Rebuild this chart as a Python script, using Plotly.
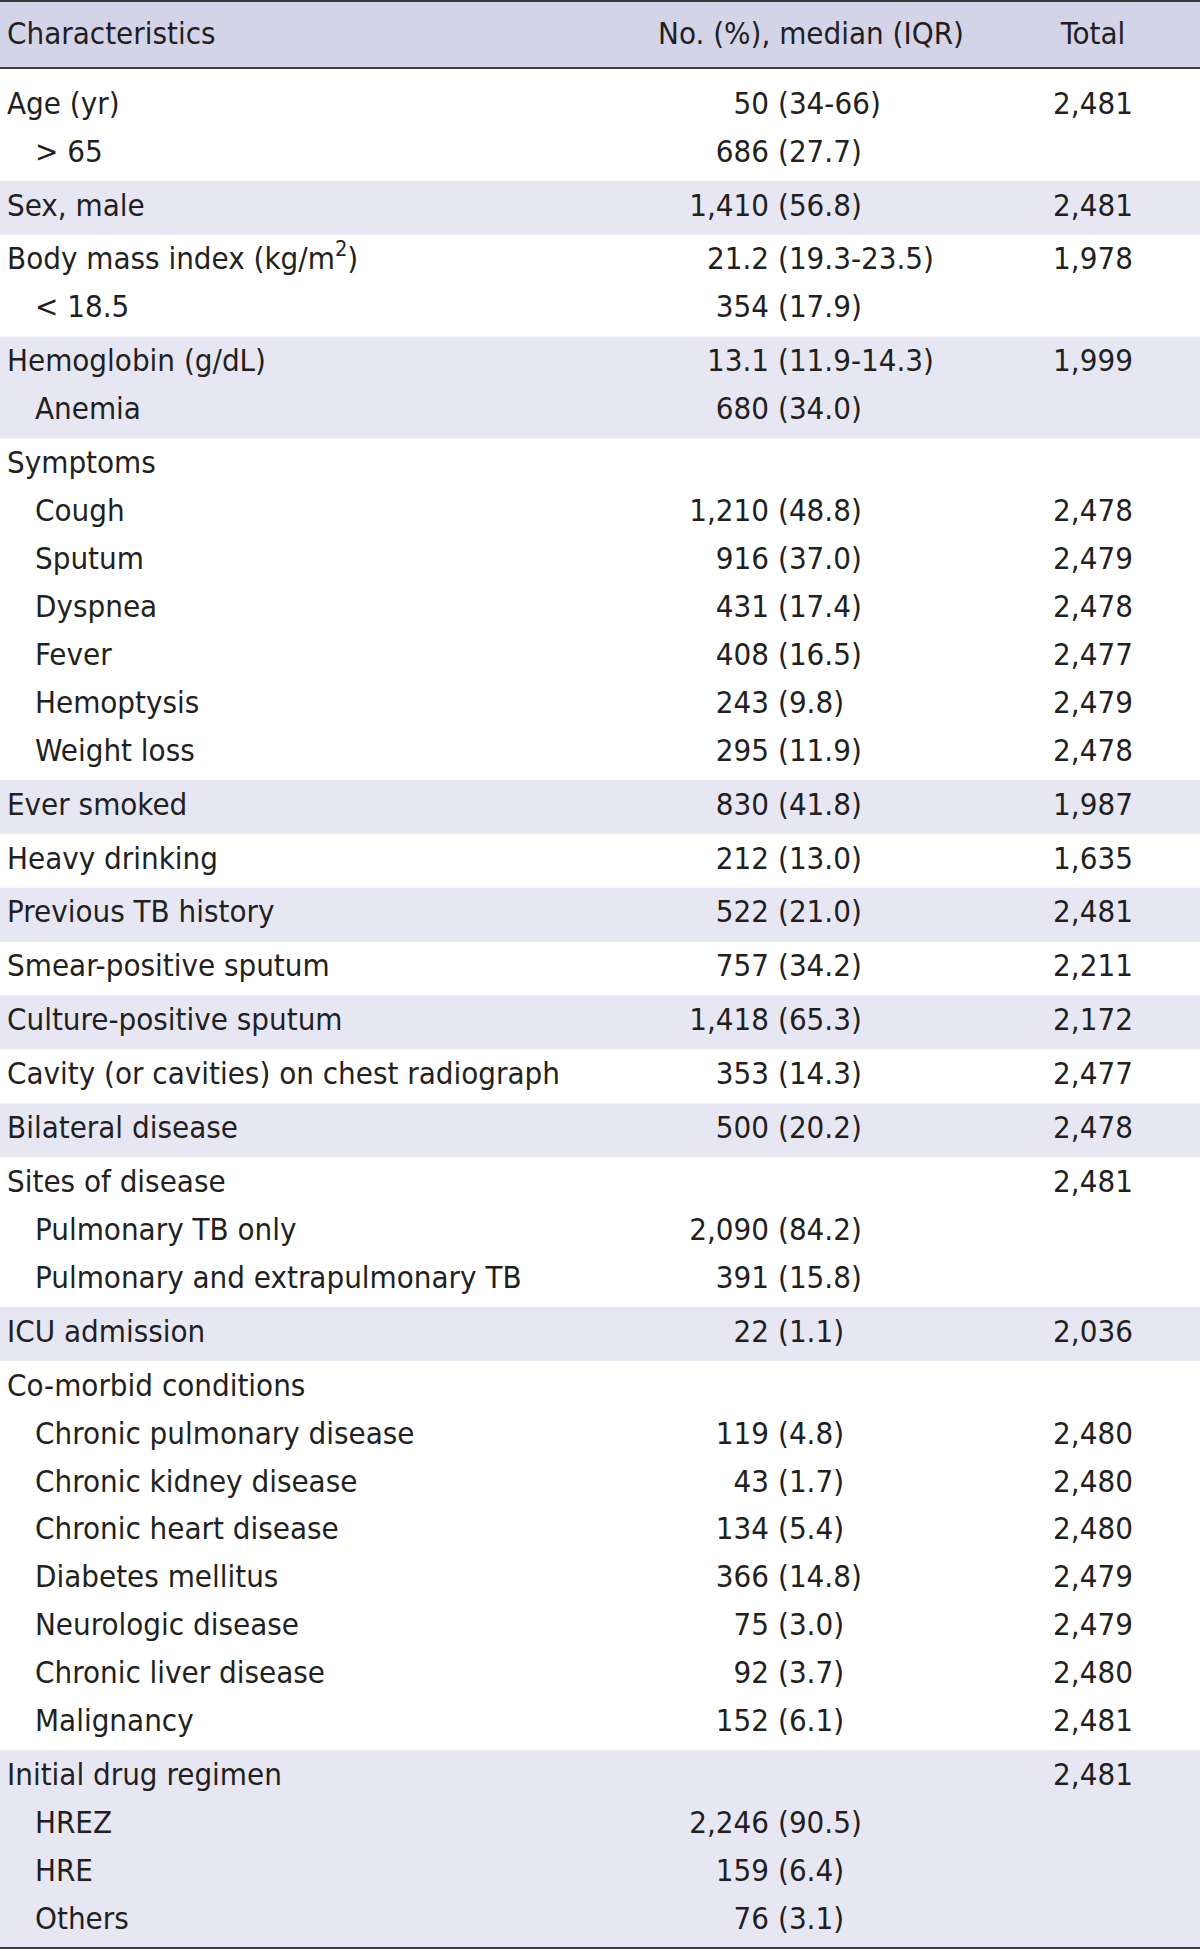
import plotly.graph_objects as go

# ---------------- data ----------------
header = ["Characteristics", "No. (%), median (IQR)", "Total"]

characteristics = [
    "Age (yr)", "&gt; 65",
    "Sex, male",
    "Body mass index (kg/m<sup>2</sup>)", "&lt; 18.5",
    "Hemoglobin (g/dL)", "Anemia",
    "Symptoms", "Cough", "Sputum", "Dyspnea", "Fever", "Hemoptysis", "Weight loss",
    "Ever smoked",
    "Heavy drinking",
    "Previous TB history",
    "Smear-positive sputum",
    "Culture-positive sputum",
    "Cavity (or cavities) on chest radiograph",
    "Bilateral disease",
    "Sites of disease", "Pulmonary TB only", "Pulmonary and extrapulmonary TB",
    "ICU admission",
    "Co-morbid conditions", "Chronic pulmonary disease", "Chronic kidney disease",
    "Chronic heart disease", "Diabetes mellitus", "Neurologic disease",
    "Chronic liver disease", "Malignancy",
    "Initial drug regimen", "HREZ", "HRE", "Others",
]

is_sub_item = [
    False, True,
    False,
    False, True,
    False, True,
    False, True, True, True, True, True, True,
    False,
    False,
    False,
    False,
    False,
    False,
    False,
    False, True, True,
    False,
    False, True, True, True, True, True, True, True,
    False, True, True, True,
]

values = [
    "50 (34-66)", "686 (27.7)",
    "1,410 (56.8)",
    "21.2 (19.3-23.5)", "354 (17.9)",
    "13.1 (11.9-14.3)", "680 (34.0)",
    "", "1,210 (48.8)", "916 (37.0)", "431 (17.4)", "408 (16.5)", "243 (9.8)", "295 (11.9)",
    "830 (41.8)",
    "212 (13.0)",
    "522 (21.0)",
    "757 (34.2)",
    "1,418 (65.3)",
    "353 (14.3)",
    "500 (20.2)",
    "", "2,090 (84.2)", "391 (15.8)",
    "22 (1.1)",
    "", "119 (4.8)", "43 (1.7)", "134 (5.4)", "366 (14.8)", "75 (3.0)", "92 (3.7)", "152 (6.1)",
    "", "2,246 (90.5)", "159 (6.4)", "76 (3.1)",
]

totals = [
    "2,481", "",
    "2,481",
    "1,978", "",
    "1,999", "",
    "", "2,478", "2,479", "2,478", "2,477", "2,479", "2,478",
    "1,987",
    "1,635",
    "2,481",
    "2,211",
    "2,172",
    "2,477",
    "2,478",
    "2,481", "", "",
    "2,036",
    "", "2,480", "2,480", "2,480", "2,479", "2,479", "2,480", "2,481",
    "2,481", "", "", "",
]

group_sizes = [2, 1, 2, 2, 7, 1, 1, 1, 1, 1, 1, 1, 3, 1, 8, 4]

# ---------------- geometry / style ----------------
W, H = 1200, 1952
FONT = "DejaVu Sans Condensed, Liberation Sans Narrow, sans-serif"
FS = 31
TXT = "#231f20"
HEAD_BG = "#d4d4e8"
BAND_BG = "#e7e7f3"
RULE = "#3c3c3c"

HEADER_BOTTOM = 68
FIRST_PAD = 11
GROUP_PAD = 3
LINE_H = 47.92
TEXT_DY = 0

X_LABEL = 7
X_SUB = 35
X_NUM_RIGHT = 769
X_PAREN_LEFT = 778
X_TOTAL = 1093
X_HEAD2 = 811

# compute line centers and group extents
line_y = []
group_extent = []
top = HEADER_BOTTOM + FIRST_PAD
for n in group_sizes:
    g_h = 2 * GROUP_PAD + LINE_H * n
    group_extent.append((top, top + g_h))
    for k in range(n):
        line_y.append(top + GROUP_PAD + LINE_H / 2 + LINE_H * k + TEXT_DY)
    top += g_h
group_extent[0] = (HEADER_BOTTOM, group_extent[0][1])

fig = go.Figure()
tf = dict(family=FONT, size=FS, color=TXT)

# label column
lx = [X_SUB if s else X_LABEL for s in is_sub_item]
fig.add_trace(go.Scatter(
    x=lx, y=line_y, text=characteristics, mode="text",
    textposition="middle right", hoverinfo="skip", textfont=tf))

# value column: split at " (" to align the parenthesis
num_part, par_part, vy = [], [], []
for v, y in zip(values, line_y):
    if not v:
        continue
    a, b = v.split(" (", 1)
    num_part.append(a)
    par_part.append("(" + b)
    vy.append(y)

fig.add_trace(go.Scatter(
    x=[X_NUM_RIGHT] * len(num_part), y=vy, text=num_part, mode="text",
    textposition="middle left", hoverinfo="skip", textfont=tf))
fig.add_trace(go.Scatter(
    x=[X_PAREN_LEFT] * len(par_part), y=vy, text=par_part, mode="text",
    textposition="middle right", hoverinfo="skip", textfont=tf))

# total column
ty = [y for t, y in zip(totals, line_y) if t]
tt = [t for t in totals if t]
fig.add_trace(go.Scatter(
    x=[X_TOTAL] * len(tt), y=ty, text=tt, mode="text",
    textposition="middle center", hoverinfo="skip", textfont=tf))

# header
hy = (2 + HEADER_BOTTOM) / 2 + 1
fig.add_trace(go.Scatter(
    x=[X_LABEL], y=[hy], text=[header[0]], mode="text",
    textposition="middle right", hoverinfo="skip", textfont=tf))
fig.add_trace(go.Scatter(
    x=[X_HEAD2, X_TOTAL], y=[hy, hy], text=header[1:], mode="text",
    textposition="middle center", hoverinfo="skip", textfont=tf))

shapes = []
shapes.append(dict(type="rect", xref="x", yref="y", x0=0, x1=W, y0=1, y1=HEADER_BOTTOM,
                   fillcolor=HEAD_BG, line=dict(width=0), layer="below"))
for i, (y0, y1) in enumerate(group_extent):
    if i % 2 == 1:
        shapes.append(dict(type="rect", xref="x", yref="y", x0=0, x1=W, y0=y0, y1=y1,
                           fillcolor=BAND_BG, line=dict(width=0), layer="below"))
for yl in (1, HEADER_BOTTOM, group_extent[-1][1]):
    shapes.append(dict(type="line", xref="x", yref="y", x0=0, x1=W, y0=yl, y1=yl,
                       line=dict(color=RULE, width=2), layer="above"))

fig.update_layout(
    width=W, height=H, margin=dict(l=0, r=0, t=0, b=0),
    paper_bgcolor="white", plot_bgcolor="white", showlegend=False,
    shapes=shapes,
    xaxis=dict(range=[0, W], visible=False, fixedrange=True),
    yaxis=dict(range=[H, 0], visible=False, fixedrange=True),
)

fig.write_html(
    "out.html",
    config={"displayModeBar": False},
    post_script="document.body.style.margin='0';document.body.style.overflow='hidden';",
)
